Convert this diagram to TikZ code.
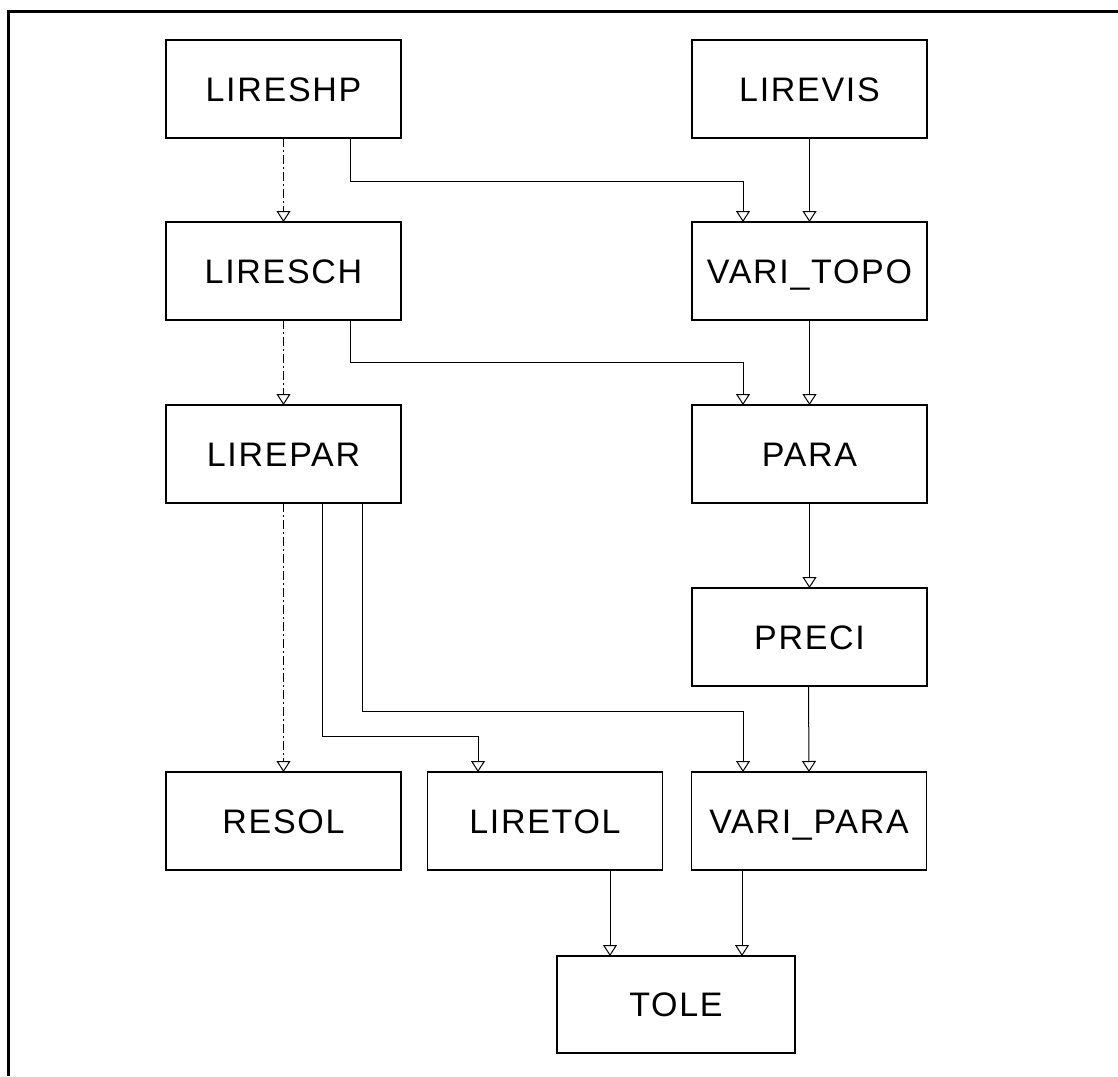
\documentclass[tikz,border=0pt]{standalone}
\usepackage{fontspec}
\setmainfont{Liberation Sans}[LetterSpace=5]
\usetikzlibrary{arrows.meta}
\begin{document}
\begin{tikzpicture}[x=1pt,y=-1pt,
  module/.style={draw, line width=1.1pt, rectangle, minimum width=235pt,
    minimum height=98pt, inner sep=0pt, outer sep=0pt,
    text height=24.5pt, text depth=0pt,
    font=\fontsize{34}{40}\selectfont},
  conn/.style={line width=1pt,
    -{Triangle[open, width=14pt, length=11pt, line width=1pt]}},
  weak/.style={conn, dash pattern=on 9pt off 3pt on 2pt off 3pt}
]
\useasboundingbox (0,0) rectangle (1118,1076);
% sheet frame (top and left edges)
\draw[line width=3pt] (8,1076) -- (8,11) -- (1118,11);

% modules
\node[module] (lireshp)  at (283.5,89)  {LIRESHP};
\node[module] (lirevis)  at (809.5,89)  {LIREVIS};
\node[module] (liresch)  at (283.5,271) {LIRESCH};
\node[module] (varitopo) at (809.5,271) {VARI\_TOPO};
\node[module] (lirepar)  at (283.5,454) {LIREPAR};
\node[module] (para)     at (809.5,454) {PARA};
\node[module] (preci)    at (809.5,637) {PRECI};
\node[module] (resol)    at (283.5,821) {RESOL};
\node[module] (liretol)  at (545,821)   {LIRETOL};
\node[module] (varipara) at (809,821)   {VARI\_PARA};
\node[module, minimum width=238pt, minimum height=97pt] (tole) at (676,1004.5) {TOLE};

% left chain
\draw[weak] (lireshp.south) -- (liresch.north);
\draw[weak] (liresch.south) -- (lirepar.north);
\draw[weak] (lirepar.south) -- (resol.north);

% right chain
\draw[conn] (lirevis.south)  -- (varitopo.north);
\draw[conn] (varitopo.south) -- (para.north);
\draw[conn] (para.south)     -- (preci.north);
\draw[conn] ([xshift=-1pt]preci.south) -- (varipara.north);

% cross links
\draw[conn] ([xshift=66.5pt]lireshp.south)
  |- ([xshift=-66.5pt,yshift=41pt]varitopo.north)
  -- ([xshift=-66.5pt]varitopo.north);
\draw[conn] ([xshift=66.5pt]liresch.south)
  |- ([xshift=-66.5pt,yshift=43pt]para.north)
  -- ([xshift=-66.5pt]para.north);
\draw[conn] ([xshift=38.5pt]lirepar.south)
  |- ([xshift=-67pt,yshift=36pt]liretol.north)
  -- ([xshift=-67pt]liretol.north);
\draw[conn] ([xshift=78.5pt]lirepar.south)
  |- ([xshift=-66pt,yshift=61pt]varipara.north)
  -- ([xshift=-66pt]varipara.north);
\draw[conn] ([xshift=65pt]liretol.south)  -- ([xshift=-66pt]tole.north);
\draw[conn] ([xshift=-67pt]varipara.south) -- ([xshift=66pt]tole.north);
\end{tikzpicture}
\end{document}
